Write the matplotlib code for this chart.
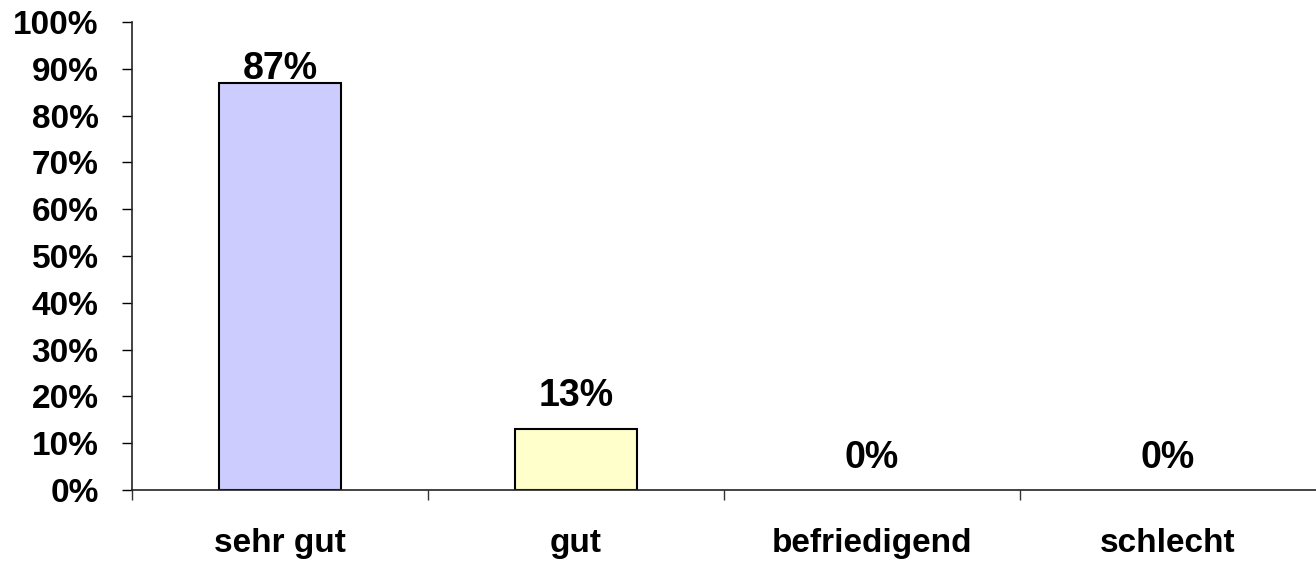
import matplotlib.pyplot as plt
from matplotlib.ticker import FixedLocator

plt.rcParams['font.family'] = ['Liberation Sans', 'DejaVu Sans']
plt.rcParams['font.weight'] = 'bold'

categories = ["sehr gut", "gut", "befriedigend", "schlecht"]
values = [87, 13, 0, 0]
bar_colors = ["#CCCCFF", "#FFFFCC", "#FFFFFF", "#FFFFFF"]
label_offsets = [3, 17, 16, 16]  # points above the bar top (baseline)
yticks = list(range(0, 101, 10))

fig = plt.figure(figsize=(13.16, 5.62), dpi=100)
ax = fig.add_axes([0.1003, 0.128, 0.8997, 0.833])

x = list(range(len(categories)))
bars = ax.bar(x, values, width=0.41, color=bar_colors, edgecolor="black", linewidth=1.5)
# no visible box for zero bars
for b, v in zip(bars, values):
    if v == 0:
        b.set_visible(False)

for xi, v, off in zip(x, values, label_offsets):
    ax.annotate(f"{v}%", (xi, v), xytext=(0, off), textcoords="offset points",
                ha="center", va="baseline", fontsize=27, fontweight="bold")

ax.set_xlim(-0.5, 3.5)
ax.set_ylim(0, 100)
ax.set_yticks(yticks)
ax.set_yticklabels([f"{t}%" for t in yticks], fontsize=24, fontweight="bold")
ax.tick_params(axis="y", direction="out", length=7, width=1, pad=17, colors="black")

ax.set_xticks(x)
ax.set_xticklabels(categories, fontsize=24, fontweight="bold")
ax.tick_params(axis="x", which="major", length=0, pad=27)
ax.xaxis.set_minor_locator(FixedLocator([-0.5, 0.5, 1.5, 2.5]))
ax.tick_params(axis="x", which="minor", direction="out", length=7, width=1, color="#333333")

for s in ["top", "right"]:
    ax.spines[s].set_visible(False)
for s in ["left", "bottom"]:
    ax.spines[s].set_linewidth(1.2)
    ax.spines[s].set_color("#222222")

fig.savefig("out.png", dpi=100)
